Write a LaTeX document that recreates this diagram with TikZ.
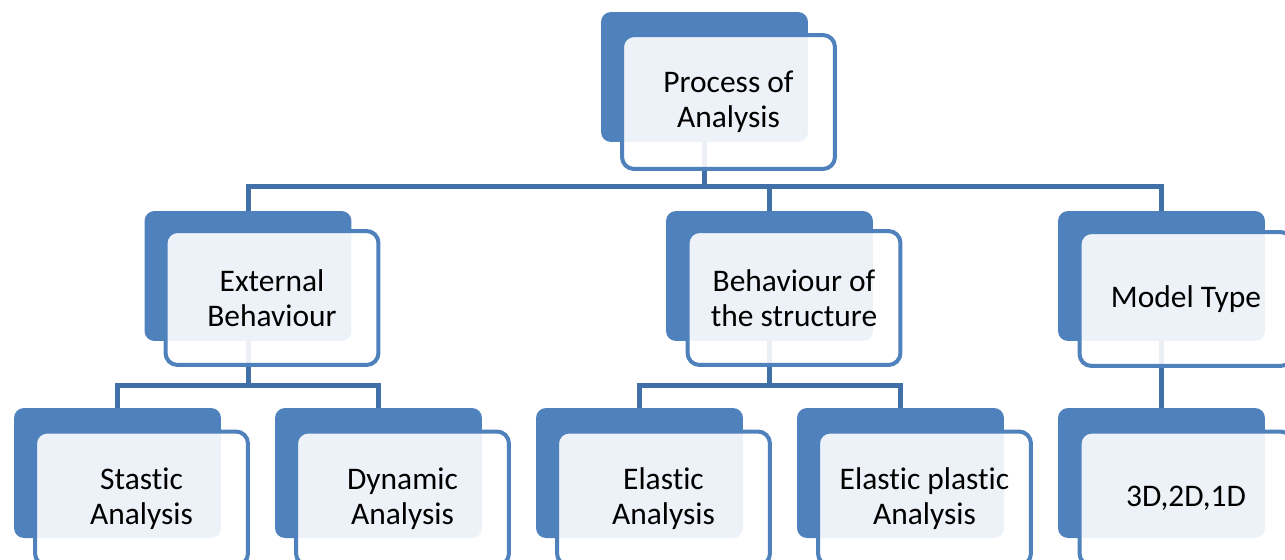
\documentclass[tikz,border=0pt]{standalone}
\usepackage{fontspec}
\setmainfont[Ligatures=NoCommon]{Carlito}
\usepackage{xcolor}
\usepackage{tikz}
\definecolor{boxblue}{RGB}{79, 129, 189}
\definecolor{linkblue}{RGB}{65, 112, 168}

\begin{document}
\begin{tikzpicture}[
    x=0.02cm, y=-0.02cm,
    backbox/.style={rectangle, rounded corners=0.2cm, fill=boxblue, minimum width=4.14cm, minimum height=2.6cm, inner sep=0pt},
    framebox/.style={rectangle, rounded corners=0.24cm, draw=boxblue, line width=0.08cm, fill=white, fill opacity=0.9, text opacity=1, minimum width=4.26cm, minimum height=2.68cm, align=center, font=\fontsize{17.9}{19.9}\selectfont},
    link/.style={draw=linkblue, line width=0.1cm}
]
    \useasboundingbox (0,0) rectangle (1285,559);
    \clip (0,0) rectangle (1285,559);

    % Back plates
    \node[backbox] (procBack) at (704.5, 77) {};
    \node[backbox] (extBack) at (248, 276) {};
    \node[backbox] (behBack) at (769.5, 276) {};
    \node[backbox] (modelBack) at (1161.5, 276) {};
    \node[backbox] (statBack) at (117.5, 473) {};
    \node[backbox] (dynBack) at (378.5, 473) {};
    \node[backbox] (elaBack) at (639.5, 473) {};
    \node[backbox] (elpBack) at (900.5, 473) {};
    \node[backbox] (dimBack) at (1161.5, 473) {};

    % Connectors
    \draw[link] (procBack.south) -- ++(0,44) -| (extBack.north);
    \draw[link] (procBack.south) -- ++(0,44) -| (behBack.north);
    \draw[link] (procBack.south) -- ++(0,44) -| (modelBack.north);
    \draw[link] (extBack.south) -- ++(0,44) -| (statBack.north);
    \draw[link] (extBack.south) -- ++(0,44) -| (dynBack.north);
    \draw[link] (behBack.south) -- ++(0,44) -| (elaBack.north);
    \draw[link] (behBack.south) -- ++(0,44) -| (elpBack.north);
    \draw[link] (modelBack.south) -- (dimBack.north);

    % Front boxes
    \node[framebox] (proc) at (728.5, 102) {Process of\\Analysis};
    \node[framebox] (ext) at (272, 298) {External\\Behaviour};
    \node[framebox] (beh) at (794, 298) {Behaviour of\\the structure};
    \node[framebox] (model) at (1186, 299) {Model Type};
    \node[framebox] (stat) at (141.5, 498.5) {Stastic\\Analysis};
    \node[framebox] (dyn) at (402.5, 498.5) {Dynamic\\Analysis};
    \node[framebox] (ela) at (663.5, 498.5) {Elastic\\Analysis};
    \node[framebox] (elp) at (924.5, 498.5) {Elastic plastic\\Analysis};
    \node[framebox] (dim) at (1186, 498.5) {3D,2D,1D};
\end{tikzpicture}
\end{document}
